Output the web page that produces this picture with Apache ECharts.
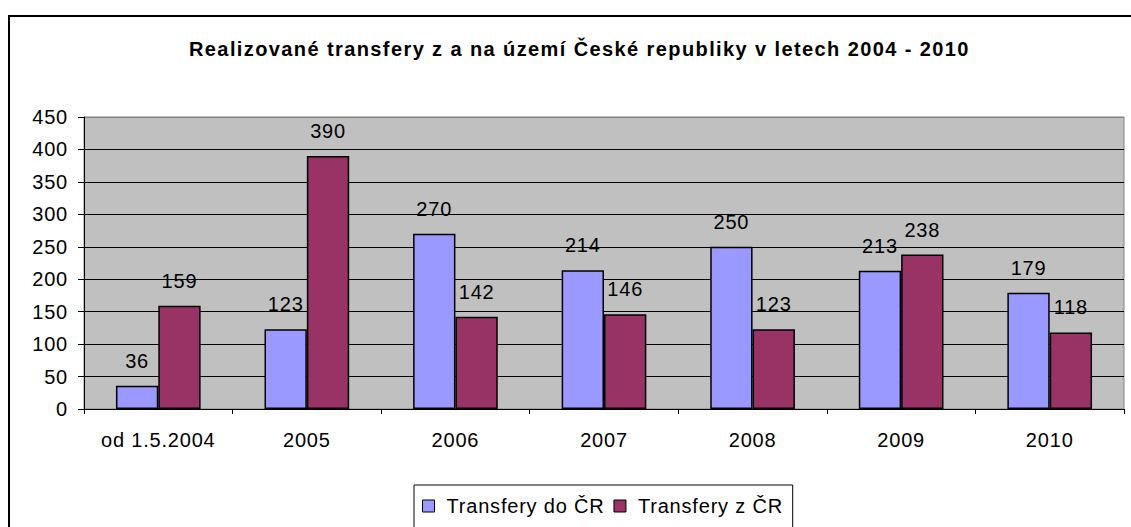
<!DOCTYPE html>
<html>
<head>
<meta charset="utf-8">
<script src="https://cdn.jsdelivr.net/npm/echarts@6/dist/echarts.min.js"></script>
<style>
    html, body { margin: 0; padding: 0; background: #fff; }
    #chart { width: 1131px; height: 527px; }
    /* the original Excel text is set a bit wide, so spread the letters */
    #chart svg text { letter-spacing: 0.8px; }
    #chart svg text[style*="bold"] { letter-spacing: 1.4px; }
</style>
</head>
<body>
<div id="chart"></div>
<script>
    var categories = ['od 1.5.2004', '2005', '2006', '2007', '2008', '2009', '2010'];
    var transferyDo = [36, 123, 270, 214, 250, 213, 179];
    var transferyZ = [159, 390, 142, 146, 123, 238, 118];

    var font = 'Arial, "Liberation Sans", sans-serif';
    // gridlines black, top one grey like the plot border
    var gridColors = ['#000', '#000', '#000', '#000', '#000', '#000', '#000', '#000', '#000', '#808080'];

    var myChart = echarts.init(document.getElementById('chart'), null, { renderer: 'svg' });
    var option = {
        backgroundColor: '#fff',
        animation: false,
        title: {
            text: 'Realizované transfery z a na území České republiky v letech 2004 - 2010',
            left: 184,
            top: 34,
            textStyle: { fontFamily: font, fontSize: 20, fontWeight: 'bold', color: '#000' }
        },
        graphic: [{
            type: 'rect',
            shape: { x: 9, y: 16, width: 1200, height: 600 },
            style: { fill: null, stroke: '#000', lineWidth: 2 },
            z: -1
        }],
        legend: {
            top: 485,
            left: 414,
            itemWidth: 12,
            itemHeight: 12,
            itemGap: 21,
            padding: [11, 21, 30, 8],
            borderColor: '#000',
            borderWidth: 1,
            icon: 'rect',
            textStyle: { fontFamily: font, fontSize: 20, color: '#000', padding: [0, 0, 0, 7] },
            data: [
                { name: 'Transfery do ČR', itemStyle: { borderColor: '#000', borderWidth: 1 } },
                { name: 'Transfery z ČR', itemStyle: { borderColor: '#000', borderWidth: 1 } }
            ]
        },
        grid: {
            left: 84,
            right: 7,
            top: 117,
            bottom: 118,
            show: true,
            backgroundColor: '#C0C0C0',
            borderColor: '#808080',
            borderWidth: 1
        },
        xAxis: {
            type: 'category',
            data: categories,
            axisLine: { lineStyle: { color: '#000', width: 1 } },
            axisTick: { show: true, length: 5, lineStyle: { color: '#000' } },
            axisLabel: { fontFamily: font, fontSize: 20, color: '#000', margin: 21 }
        },
        yAxis: {
            type: 'value',
            min: 0,
            max: 450,
            interval: 50,
            axisLine: { show: true, lineStyle: { color: '#000', width: 1 } },
            axisTick: { show: true, length: 6, lineStyle: { color: '#000' } },
            axisLabel: { fontFamily: font, fontSize: 20, color: '#000', margin: 16 },
            splitLine: { show: true, lineStyle: { color: gridColors, width: 1 } }
        },
        series: [
            {
                name: 'Transfery do ČR',
                type: 'bar',
                data: transferyDo,
                barGap: '0%',
                barCategoryGap: '43%',
                itemStyle: { color: '#9999FF', borderColor: '#000', borderWidth: 1.5 },
                label: {
                    show: true, position: 'top', distance: 15,
                    fontFamily: font, fontSize: 20, color: '#000'
                }
            },
            {
                name: 'Transfery z ČR',
                type: 'bar',
                data: transferyZ,
                itemStyle: { color: '#993366', borderColor: '#000', borderWidth: 1.5 },
                label: {
                    show: true, position: 'top', distance: 15,
                    fontFamily: font, fontSize: 20, color: '#000'
                }
            }
        ]
    };
    myChart.setOption(option, true);
</script>
</body>
</html>
